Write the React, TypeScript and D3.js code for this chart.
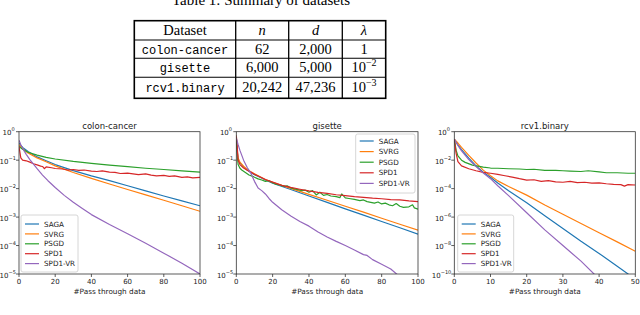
import { useEffect, useRef } from 'react';
import * as d3 from 'd3';

type Pt = [number, number];

// ---- table ----
const tableHeader = ['Dataset', 'n', 'd', 'λ'];
const tableNames = ['colon-cancer', 'gisette', 'rcv1.binary'];
const tableN = ['62', '6,000', '20,242'];
const tableD = ['2,000', '5,000', '47,236'];
const tableLambdaExp = ['', '−2', '−3'];

// ---- colon-cancer ----
const colonSaga: Pt[] = [[0, 0.4], [2, 0.28], [5, 0.2], [10, 0.13], [15, 0.095], [20, 0.07], [30, 0.043], [40, 0.028], [50, 0.019], [60, 0.0126], [70, 0.0083], [80, 0.0055], [90, 0.0037], [100, 0.0025]];
const colonSvrg: Pt[] = [[0, 0.35], [2, 0.25], [5, 0.18], [10, 0.12], [15, 0.088], [20, 0.063], [30, 0.037], [40, 0.023], [50, 0.0145], [60, 0.0093], [70, 0.006], [80, 0.0039], [90, 0.0025], [100, 0.0016]];
const colonPsgd: Pt[] = [[0, 0.3], [2, 0.24], [5, 0.19], [10, 0.15], [15, 0.125], [20, 0.11], [30, 0.09], [40, 0.077], [50, 0.067], [60, 0.059], [70, 0.052], [80, 0.047], [90, 0.042], [100, 0.038]];
const colonSpd1: Pt[] = [[0, 0.3], [1, 0.12], [2, 0.1], [4, 0.095], [6, 0.085], [8, 0.075], [10, 0.068], [12, 0.062], [13, 0.06], [14, 0.05], [15, 0.058], [18, 0.054], [20, 0.051], [24, 0.049], [27, 0.045], [30, 0.047], [33, 0.044], [36, 0.045], [40, 0.041], [43, 0.04], [46, 0.042], [50, 0.038], [53, 0.037], [56, 0.034], [60, 0.035], [63, 0.033], [66, 0.031], [70, 0.033], [73, 0.03], [76, 0.028], [80, 0.029], [83, 0.027], [86, 0.028], [90, 0.025], [93, 0.026], [96, 0.024], [100, 0.025]];
const colonSpd1Vr: Pt[] = [[0, 0.5], [1, 0.35], [2, 0.26], [4, 0.16], [6, 0.105], [8, 0.072], [10, 0.05], [13, 0.03], [16, 0.019], [20, 0.011], [25, 0.0058], [30, 0.0033], [35, 0.002], [40, 0.00122], [50, 0.00055], [60, 0.00026], [70, 0.00012], [80, 0.000054], [90, 0.000024], [100, 0.00001]];

// ---- gisette ----
const gisSaga: Pt[] = [[0, 0.6], [0.5, 0.2], [1, 0.11], [2, 0.08], [4, 0.058], [6, 0.045], [8, 0.037], [10, 0.031], [13, 0.025], [16, 0.02], [20, 0.0155], [30, 0.0093], [40, 0.0055], [50, 0.0033], [60, 0.00195], [70, 0.00117], [80, 0.0007], [90, 0.00042], [100, 0.00025]];
const gisSvrg: Pt[] = [[0, 0.65], [0.5, 0.22], [1, 0.12], [2, 0.085], [4, 0.061], [6, 0.047], [8, 0.039], [10, 0.033], [13, 0.026], [16, 0.021], [20, 0.0166], [30, 0.0102], [40, 0.0063], [50, 0.0039], [60, 0.0024], [70, 0.0015], [80, 0.00091], [90, 0.00056], [100, 0.00035]];
const gisPsgd: Pt[] = [[0, 0.6], [0.5, 0.15], [1, 0.07], [2, 0.052], [3, 0.045], [5, 0.037], [7, 0.03], [9, 0.027], [10, 0.025], [12, 0.022], [14, 0.02], [16, 0.018], [18, 0.019], [20, 0.016], [22, 0.014], [24, 0.0135], [26, 0.012], [28, 0.0125], [30, 0.0105], [32, 0.0098], [34, 0.0092], [36, 0.0085], [38, 0.0088], [40, 0.0075], [42, 0.0085], [44, 0.006], [46, 0.0075], [48, 0.0058], [50, 0.0062], [52, 0.0055], [55, 0.0052], [57, 0.0048], [58, 0.0065], [60, 0.0047], [62, 0.0045], [65, 0.0042], [68, 0.0038], [70, 0.004], [72, 0.0035], [74, 0.0033], [76, 0.0031], [78, 0.0034], [80, 0.0029], [82, 0.0031], [84, 0.0027], [86, 0.0025], [88, 0.003], [90, 0.0024], [92, 0.0022], [95, 0.0023], [97, 0.0027], [98, 0.0021], [100, 0.0019]];
const gisSpd1: Pt[] = [[0, 0.75], [0.5, 0.3], [1, 0.1], [2, 0.07], [4, 0.053], [6, 0.044], [8, 0.038], [10, 0.032], [13, 0.026], [16, 0.021], [20, 0.017], [25, 0.013], [30, 0.011], [35, 0.0095], [40, 0.0083], [45, 0.0074], [50, 0.0068], [55, 0.0061], [60, 0.0057], [65, 0.0052], [70, 0.0049], [75, 0.0046], [80, 0.0044], [85, 0.0041], [90, 0.004], [95, 0.0037], [100, 0.0035]];
const gisSpd1Vr: Pt[] = [[0, 0.6], [1, 0.35], [2, 0.22], [4, 0.1], [6, 0.055], [8, 0.035], [10, 0.018], [12, 0.0105], [14, 0.0085], [16, 0.0065], [18, 0.0045], [20, 0.0033], [25, 0.0018], [30, 0.0011], [35, 0.0007], [40, 0.00048], [45, 0.0003], [50, 0.0002], [55, 0.00014], [60, 0.0001], [65, 0.00007], [70, 0.000048], [72, 0.000045], [75, 0.000032], [80, 0.000022], [85, 0.000015], [90, 0.000008]];

// ---- rcv1.binary ----
const rcvSaga: Pt[] = [[0, 0.3], [1, 0.12], [2, 0.056], [4, 0.014], [6, 0.004], [8, 0.0014], [10, 0.00063], [12, 0.00025], [15, 0.00007], [20, 0.00001], [25, 1.26e-6], [30, 1.6e-7], [35, 2e-8], [40, 2.8e-9], [45, 3.5e-10], [48, 1e-10], [49, 6e-11]];
const rcvSvrg: Pt[] = [[0, 0.3], [1, 0.16], [2, 0.08], [4, 0.022], [6, 0.0063], [8, 0.002], [10, 0.0008], [12, 0.00035], [15, 0.00014], [20, 0.000035], [25, 0.000007], [30, 1.6e-6], [35, 3.5e-7], [40, 8e-8], [45, 1.8e-8], [50, 4e-9]];
const rcvPsgd: Pt[] = [[0, 0.3], [0.5, 0.05], [1, 0.02], [2, 0.01], [3, 0.007], [5, 0.0045], [8, 0.0032], [10, 0.0028], [12, 0.0027], [15, 0.0025], [18, 0.0024], [20, 0.0022], [22, 0.0023], [25, 0.0019], [28, 0.0019], [30, 0.0018], [32, 0.0017], [35, 0.0016], [37, 0.0018], [40, 0.0015], [42, 0.0013], [45, 0.0013], [48, 0.0012], [50, 0.0012]];
const rcvSpd1: Pt[] = [[0, 0.3], [0.5, 0.03], [1, 0.008], [2, 0.004], [4, 0.0025], [6, 0.0018], [8, 0.0014], [10, 0.0012], [12, 0.001], [14, 0.0008], [16, 0.00065], [18, 0.0005], [20, 0.0004], [22, 0.00042], [24, 0.00032], [26, 0.00036], [28, 0.0003], [30, 0.00028], [32, 0.00032], [34, 0.00026], [36, 0.00028], [38, 0.00024], [40, 0.00025], [42, 0.00022], [44, 0.0002], [46, 0.00019], [47, 0.00015], [48, 0.00019], [50, 0.00018]];
const rcvSpd1Vr: Pt[] = [[0, 0.3], [1, 0.11], [2, 0.045], [4, 0.011], [6, 0.0035], [8, 0.00126], [10, 0.0005], [12, 0.00016], [15, 0.000032], [20, 2e-6], [25, 1.26e-7], [30, 1e-8], [35, 8e-10], [39, 8e-11]];

const seriesNames = ['SAGA', 'SVRG', 'PSGD', 'SPD1', 'SPD1-VR'];
const seriesColors = ['#1f77b4', '#ff7f0e', '#2ca02c', '#d62728', '#9467bd'];

const xTicks100 = [0, 20, 40, 60, 80, 100];
const xTicks50 = [0, 10, 20, 30, 40, 50];
const yExp5 = [0, -1, -2, -3, -4, -5];
const yExp10 = [0, -2, -4, -6, -8, -10];

const panels = [
	{ title: 'colon-cancer', left: 19, right: 200, xMax: 100, xTicks: xTicks100, yMinExp: -5, yExps: yExp5,
		series: [colonSaga, colonSvrg, colonPsgd, colonSpd1, colonSpd1Vr], legend: { x: 21, y: 215, w: 57, h: 57, first: 224, step: 9.9 } },
	{ title: 'gisette', left: 236.3, right: 418, xMax: 100, xTicks: xTicks100, yMinExp: -5, yExps: yExp5,
		series: [gisSaga, gisSvrg, gisPsgd, gisSpd1, gisSpd1Vr], legend: { x: 355.7, y: 134, w: 59.3, h: 59, first: 141, step: 10.6 } },
	{ title: 'rcv1.binary', left: 454.3, right: 635.3, xMax: 50, xTicks: xTicks50, yMinExp: -10, yExps: yExp10,
		series: [rcvSaga, rcvSvrg, rcvPsgd, rcvSpd1, rcvSpd1Vr], legend: { x: 457.7, y: 215, w: 56, h: 57, first: 224, step: 9.9 } },
];

const FONT = 'DejaVu Sans';
const SERIF = 'Liberation Serif';
const MONO = 'Liberation Mono';

export default function App() {
	const svgRef = useRef<SVGSVGElement | null>(null);

	useEffect(() => {
		if (!svgRef.current) return;
		const svg = d3.select(svgRef.current);
		svg.selectAll('*').remove();

		// Table caption (cut by the top edge, like the reference)
		svg.append('text').attr('x', 261).attr('y', 5).attr('text-anchor', 'middle')
			.style('font-family', SERIF).style('font-size', '15px').text('Table 1: Summary of datasets');

		// Table
		const colX = [134.3, 235.7, 288.7, 342.3, 385.7];
		const rowY = [20.7, 40, 58.3, 77.3, 98.3];
		const tg = svg.append('g');
		tg.append('rect').attr('x', colX[0]).attr('y', rowY[0])
			.attr('width', colX[4] - colX[0]).attr('height', rowY[4] - rowY[0])
			.attr('fill', 'none').attr('stroke', '#000').attr('stroke-width', 1.6);
		colX.slice(1, 4).forEach((x) => {
			tg.append('line').attr('x1', x).attr('x2', x).attr('y1', rowY[0]).attr('y2', rowY[4])
				.attr('stroke', '#000').attr('stroke-width', 1.3);
		});
		rowY.slice(1, 4).forEach((y) => {
			tg.append('line').attr('x1', colX[0]).attr('x2', colX[4]).attr('y1', y).attr('y2', y)
				.attr('stroke', '#000').attr('stroke-width', 1.1);
		});
		const cx = (i: number) => (colX[i] + colX[i + 1]) / 2;
		const baseY = [35, 53.5, 72, 92];
		tableHeader.forEach((h, i) => {
			tg.append('text').attr('x', cx(i)).attr('y', baseY[0]).attr('text-anchor', 'middle')
				.style('font-family', SERIF).style('font-size', '14.5px')
				.style('font-style', i === 0 ? 'normal' : 'italic').text(h);
		});
		tableNames.forEach((name, r) => {
			const y = baseY[r + 1];
			tg.append('text').attr('x', cx(0)).attr('y', y).attr('text-anchor', 'middle')
				.style('font-family', MONO).style('font-size', '12px').text(name);
			tg.append('text').attr('x', cx(1)).attr('y', y).attr('text-anchor', 'middle')
				.style('font-family', SERIF).style('font-size', '14.5px').text(tableN[r]);
			tg.append('text').attr('x', cx(2)).attr('y', y).attr('text-anchor', 'middle')
				.style('font-family', SERIF).style('font-size', '14.5px').text(tableD[r]);
			const lt = tg.append('text').attr('x', cx(3)).attr('y', y).attr('text-anchor', 'middle')
				.style('font-family', SERIF).style('font-size', '14.5px');
			if (tableLambdaExp[r]) {
				lt.append('tspan').text('10');
				lt.append('tspan').attr('dy', -6).style('font-size', '10px').text(tableLambdaExp[r]);
			} else {
				lt.text('1');
			}
		});

		// Plots
		const top = 131.7;
		const bottom = 274;
		panels.forEach((p, pi) => {
			const x = d3.scaleLinear().domain([0, p.xMax]).range([p.left, p.right]);
			const y = d3.scaleLog().domain([10 ** p.yMinExp, 1]).range([bottom, top]);
			const g = svg.append('g');

			const clipId = `clip${pi}`;
			g.append('clipPath').attr('id', clipId).append('rect')
				.attr('x', p.left).attr('y', top).attr('width', p.right - p.left).attr('height', bottom - top);

			const line = d3.line<Pt>().x((d) => x(d[0])).y((d) => y(d[1]));
			const lines = g.append('g').attr('clip-path', `url(#${clipId})`);
			p.series.forEach((s, si) => {
				lines.append('path').attr('d', line(s) ?? '').attr('fill', 'none')
					.attr('stroke', seriesColors[si]).attr('stroke-width', 1.2)
					.attr('stroke-linejoin', 'round');
			});

			// frame
			g.append('rect').attr('x', p.left).attr('y', top).attr('width', p.right - p.left)
				.attr('height', bottom - top).attr('fill', 'none').attr('stroke', '#333').attr('stroke-width', 0.8);

			// x ticks
			p.xTicks.forEach((t) => {
				g.append('line').attr('x1', x(t)).attr('x2', x(t)).attr('y1', bottom).attr('y2', bottom + 3)
					.attr('stroke', '#333').attr('stroke-width', 0.8);
				g.append('text').attr('x', x(t)).attr('y', bottom + 9.8).attr('text-anchor', 'middle')
					.style('font-family', FONT).style('font-size', '7px').attr('fill', '#222').text(String(t));
			});
			g.append('text').attr('x', (p.left + p.right) / 2).attr('y', 293.8).attr('text-anchor', 'middle')
				.style('font-family', FONT).style('font-size', '7.3px').attr('fill', '#222').text('#Pass through data');

			// y ticks
			p.yExps.forEach((e) => {
				const yy = y(10 ** e);
				g.append('line').attr('x1', p.left - 3).attr('x2', p.left).attr('y1', yy).attr('y2', yy)
					.attr('stroke', '#333').attr('stroke-width', 0.8);
				const supW = e === 0 ? 3.2 : String(e).length * 3.1;
				g.append('text').attr('x', p.left - 4.3 - supW).attr('y', yy + 3.7)
					.attr('text-anchor', 'end').style('font-family', FONT).style('font-size', '7px').attr('fill', '#222')
					.text('10');
				g.append('text').attr('x', p.left - 4.3 - supW).attr('y', yy - 0.3)
					.style('font-family', FONT).style('font-size', '5px').attr('fill', '#222')
					.text(e === 0 ? '0' : `−${Math.abs(e)}`);
			});

			// title
			g.append('text').attr('x', (p.left + p.right) / 2).attr('y', 129).attr('text-anchor', 'middle')
				.style('font-family', FONT).style('font-size', '8.5px').attr('fill', '#222').text(p.title);

			// legend
			const L = p.legend;
			g.append('rect').attr('x', L.x).attr('y', L.y).attr('width', L.w).attr('height', L.h)
				.attr('rx', 2).attr('fill', 'white').attr('fill-opacity', 0.85)
				.attr('stroke', '#ccc').attr('stroke-width', 0.8);
			seriesNames.forEach((name, i) => {
				const ly = L.first + i * L.step;
				g.append('line').attr('x1', L.x + 4).attr('x2', L.x + 18).attr('y1', ly).attr('y2', ly)
					.attr('stroke', seriesColors[i]).attr('stroke-width', 1.2);
				g.append('text').attr('x', L.x + 23).attr('y', ly + 2.6)
					.style('font-family', FONT).style('font-size', '7.2px').attr('fill', '#222').text(name);
			});
		});
	}, []);

	return (
		<svg ref={svgRef} width={640} height={315}
			style={{ position: 'absolute', left: 0, top: 0, background: 'white' }} />
	);
}
